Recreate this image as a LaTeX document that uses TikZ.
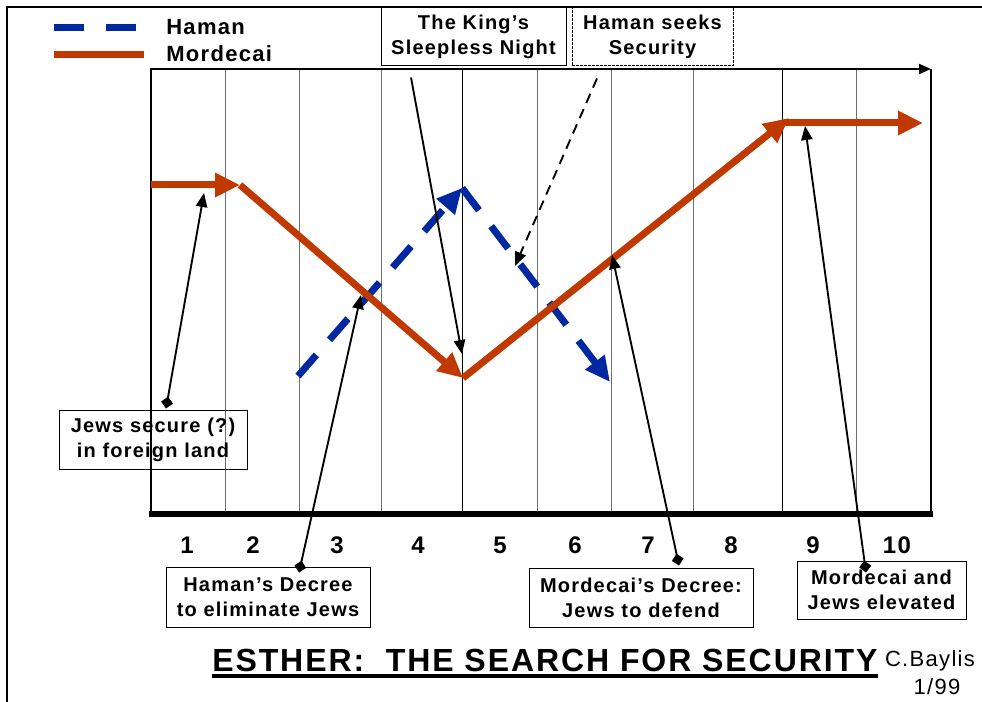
\documentclass[tikz,border=0pt]{standalone}
\usepackage{fontspec}
\setmainfont{Liberation Sans}[LetterSpace=6]
\usetikzlibrary{positioning,arrows.meta,calc}
\definecolor{MordecaiRed}{RGB}{192,57,0}
\definecolor{HamanBlue}{RGB}{0,40,160}
\definecolor{GridGray}{RGB}{110,110,110}
\tikzset{
  mordecai/.style={-{Triangle[length=18.75pt,width=17.25pt]},line width=5.25pt,draw=MordecaiRed},
  haman/.style={-{Triangle[length=18.75pt,width=17.25pt]},line width=5.25pt,draw=HamanBlue,
    dash pattern=on 21pt off 15pt},
  callout/.style={{Diamond[length=9pt,width=9pt]}-{Triangle[length=10.5pt,width=8.5pt]},line width=1.4pt},
  pointer/.style={-{Triangle[length=10.5pt,width=8.5pt]},line width=1.4pt},
  dashpointer/.style={pointer,dash pattern=on 7.5pt off 5pt},
  notebox/.style={draw,line width=0.75pt,align=center,inner sep=0pt,
    font=\fontsize{15}{18.75}\selectfont\bfseries},
  dotbox/.style={notebox,dash pattern=on 2pt off 1pt},
  gridline/.style={line width=0.75pt,draw=GridGray},
  numlbl/.style={font=\fontsize{18}{22}\selectfont\bfseries,inner sep=0pt},
  legendlbl/.style={anchor=west,inner sep=0pt,font=\fontsize{16.5}{20}\selectfont\bfseries},
  titlelbl/.style={inner sep=0pt,font=\fontsize{24}{28}\selectfont\bfseries},
  authorlbl/.style={inner sep=0pt,font=\fontsize{16.5}{20}\selectfont}
}

\begin{document}
\begin{tikzpicture}[x=0.75pt,y=-0.75pt]
  \useasboundingbox (0,0) rectangle (982,702);
  % page frame
  \draw[line width=2pt] (7,702) -- (7,7) -- (982,7);

  % chart area
  \foreach \x in {225,299,381,537,611,693,856}
    \draw[gridline] (\x,69) -- (\x,514);
  \foreach \x in {462,782}
    \draw[gridline,draw=black] (\x,69) -- (\x,514);
  \draw[line width=1.5pt,-{Triangle[length=9pt,width=7.5pt]}] (151,514) -- (151,69) -- (931,69);
  \draw[line width=1.5pt] (931,69) -- (931,514);
  \draw[line width=4.5pt] (149,514) -- (933,514);
  \foreach \n/\x in {1/187,2/253,3/337,4/418,5/500,6/575,7/648,8/731,9/813,10/897}
    \node[numlbl] (n\n) at (\x,545.5) {\n};

  % legend
  \draw[line width=5.25pt,draw=HamanBlue] (54,28) -- (84,28) (106,28) -- (136,28);
  \draw[line width=5.25pt,draw=MordecaiRed] (54,55) -- (144,55);
  \node[legendlbl] (hamanlbl) at (166,27) {Haman};
  \node[legendlbl] (mordlbl) at (166,54) {Mordecai};

  % the two courses
  \coordinate (m0) at (151,185);
  \coordinate (m1) at (240,185);
  \coordinate (m2) at (463,378);
  \coordinate (m3) at (789,118);
  \coordinate (m4) at (784,123);
  \coordinate (m5) at (923,123);
  \coordinate (h0) at (298,376);
  \coordinate (h1) at (462,188);
  \coordinate (h2) at (610,382);
  \draw[haman] (h0) -- (h1);
  \draw[haman] (h1) -- (h2);
  \draw[mordecai] (m0) -- (m1);
  \draw[mordecai] (m1) -- (m2);
  \draw[mordecai] (m2) -- (m3);
  \draw[mordecai] (m4) -- (m5);

  % notes
  \node[notebox,minimum width=141pt,minimum height=44.25pt] (jews) at (153,439.5)
    {Jews secure (?)\\in foreign land};
  \node[notebox,minimum width=153pt,minimum height=45pt] (hdecree) at (268,597)
    {Haman’s Decree\\to eliminate Jews};
  \node[notebox,minimum width=138.75pt,minimum height=44.25pt] (king) at (473.5,36.5)
    {The King’s\\Sleepless Night};
  \node[dotbox,minimum width=120.75pt,minimum height=44.25pt] (seeks) at (652.5,36.5)
    {Haman seeks\\Security};
  \node[notebox,minimum width=168pt,minimum height=44.25pt] (mdecree) at (641,597.5)
    {Mordecai’s Decree:\\Jews to defend};
  \node[notebox,minimum width=126.75pt,minimum height=43.5pt] (elev) at (881.5,590)
    {Mordecai and\\Jews elevated};

  \coordinate (t1) at (204,193);
  \coordinate (t2) at (361,295);
  \coordinate (t3) at (462,354);
  \coordinate (t4) at (515,266);
  \coordinate (t5) at (612,255);
  \coordinate (t6) at (805,126);
  \draw[callout] ($(jews.north)+(13,-1)$) -- (t1);
  \draw[callout] ($(hdecree.north)+(31,6)$) -- (t2);
  \draw[pointer] ($(king.south)+(-62.5,11)$) -- (t3);
  \draw[dashpointer] ($(seeks.south)+(-55.5,12)$) -- (t4);
  \draw[callout] ($(mdecree.north)+(38,-2)$) -- (t5);
  \draw[callout] ($(elev.north)+(-15.5,12)$) -- (t6);

  % title
  \node[titlelbl,anchor=base west] (title) at (212,671) {ESTHER:\ \ THE SEARCH FOR SECURITY};
  \draw[line width=3pt] ($(title.base west)+(0,5)$) -- ($(title.base east)+(0,5)$);
  \node[authorlbl,anchor=base] (baylis) at (930,666) {C.Baylis};
  \node[authorlbl,anchor=base] (date) at (937,694) {1/99};
\end{tikzpicture}
\end{document}
